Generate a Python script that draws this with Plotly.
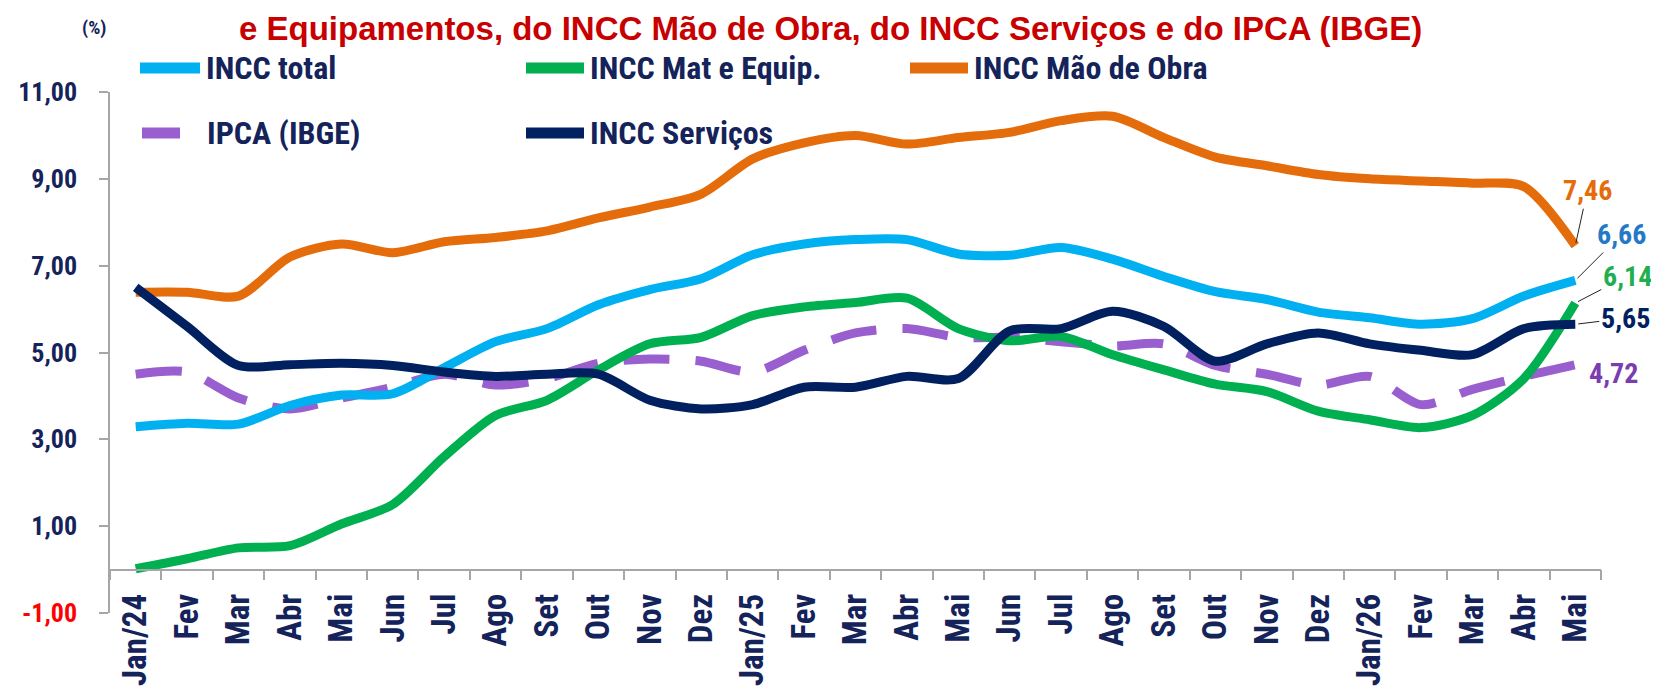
import plotly.graph_objects as go

meses = ["Jan/24", "Fev", "Mar", "Abr", "Mai", "Jun", "Jul", "Ago", "Set", "Out", "Nov", "Dez",
         "Jan/25", "Fev", "Mar", "Abr", "Mai", "Jun", "Jul", "Ago", "Set", "Out", "Nov", "Dez",
         "Jan/26", "Fev", "Mar", "Abr", "Mai"]

incc_total = [3.29, 3.37, 3.35, 3.78, 4.02, 4.05, 4.65, 5.25, 5.55, 6.10, 6.45, 6.70,
              7.25, 7.50, 7.60, 7.60, 7.27, 7.24, 7.42, 7.15, 6.75, 6.40, 6.22, 5.93,
              5.80, 5.65, 5.78, 6.30, 6.66]
incc_mat = [0.02, 0.25, 0.50, 0.55, 1.05, 1.50, 2.60, 3.55, 3.90, 4.60, 5.20, 5.35,
            5.85, 6.05, 6.15, 6.25, 5.55, 5.27, 5.37, 4.95, 4.60, 4.27, 4.10, 3.65,
            3.45, 3.27, 3.55, 4.40, 6.14]
incc_mao = [6.39, 6.39, 6.30, 7.20, 7.50, 7.30, 7.55, 7.65, 7.80, 8.10, 8.35, 8.65,
            9.46, 9.83, 10.00, 9.80, 9.95, 10.07, 10.34, 10.44, 9.95, 9.50, 9.30, 9.10,
            9.00, 8.95, 8.90, 8.82, 7.46]
incc_serv = [6.50, 5.60, 4.70, 4.72, 4.75, 4.70, 4.55, 4.45, 4.50, 4.50, 3.90, 3.70,
             3.80, 4.20, 4.20, 4.45, 4.40, 5.50, 5.55, 5.95, 5.60, 4.80, 5.20, 5.45,
             5.20, 5.05, 4.95, 5.55, 5.65]
ipca = [4.50, 4.55, 3.95, 3.70, 3.95, 4.20, 4.50, 4.25, 4.40, 4.75, 4.85, 4.80,
        4.55, 5.05, 5.45, 5.55, 5.35, 5.35, 5.25, 5.15, 5.20, 4.70, 4.50, 4.25,
        4.45, 3.80, 4.15, 4.45, 4.72]

y_ticks = [-1, 1, 3, 5, 7, 9, 11]
y_tick_text = ["-1,00", "1,00", "3,00", "5,00", "7,00", "9,00", "11,00"]

titulo = "e Equipamentos, do INCC Mão de Obra, do INCC Serviços e do IPCA (IBGE)"

NARROW = "Liberation Sans Narrow, Arial Narrow, Roboto Condensed, Liberation Sans, Arial, sans-serif"
NAVY_TXT = "#14235A"

C_TOTAL = "#00B0F0"
C_MAT = "#00B050"
C_MAO = "#E46C0A"
C_SERV = "#002060"
C_IPCA = "#9A5FCF"

# the page body has an 8px margin: figure coords = screen coords - 8
OFF = 8
W, H = 1659 - OFF, 692 - OFF
ML, MR, MT, MB = 110 - OFF, 58, 92 - OFF, 79
PW, PH = W - ML - MR, H - MT - MB


def px(xs):
    return (xs - OFF - ML) / PW


def py(ys):
    return (H - MB - (ys - OFF)) / PH


x = list(range(len(meses)))
fig = go.Figure()

series = [
    ("IPCA (IBGE)", ipca, C_IPCA, "46px,26px"),
    ("INCC total", incc_total, C_TOTAL, "solid"),
    ("INCC Mat e Equip.", incc_mat, C_MAT, "solid"),
    ("INCC Mão de Obra", incc_mao, C_MAO, "solid"),
    ("INCC Serviços", incc_serv, C_SERV, "solid"),
]
for name, vals, col, dash in series:
    fig.add_trace(go.Scatter(
        x=x, y=vals, name=name, mode="lines",
        line=dict(color=col, width=9, dash=dash, shape="spline", smoothing=0.8),
        showlegend=False, hoverinfo="skip"))

# dummy trace for the boundary-tick axis
fig.add_trace(go.Scatter(x=[0], y=[None], xaxis="x2", showlegend=False, hoverinfo="skip"))

axis_pos = (0 - y_ticks[0]) / (y_ticks[-1] - y_ticks[0])

fig.update_layout(
    width=W, height=H, autosize=False,
    margin=dict(l=ML, r=MR, t=MT, b=MB, autoexpand=False),
    paper_bgcolor="white", plot_bgcolor="white",
    xaxis=dict(
        range=[-0.5, len(meses) - 0.5], anchor="free", position=axis_pos,
        tickmode="array", tickvals=x, ticktext=meses, tickangle=-90,
        ticks="outside", ticklen=10, tickcolor="rgba(0,0,0,0)",
        ticklabelstandoff=0, automargin=False,
        showline=False, showgrid=False, zeroline=False,
        tickfont=dict(family=NARROW, size=33, color=NAVY_TXT, weight="bold"),
    ),
    xaxis2=dict(
        range=[-0.5, len(meses) - 0.5], overlaying="x", anchor="free", position=axis_pos,
        tickmode="array", tickvals=[i - 0.5 for i in range(len(meses) + 1)],
        ticks="outside", ticklen=10, tickcolor="#A6A6A6", tickwidth=1.5,
        showticklabels=False, showline=True, linecolor="#A6A6A6", linewidth=1.5,
        showgrid=False, zeroline=False, automargin=False,
    ),
    yaxis=dict(
        range=[y_ticks[0], y_ticks[-1]], tickmode="array", tickvals=y_ticks,
        ticktext=[('<span style="color:#FF0000">%s</span>' % t) if v < 0 else t
                  for v, t in zip(y_ticks, y_tick_text)],
        ticks="outside", ticklen=9, tickcolor="#A6A6A6", tickwidth=1.5,
        ticklabelstandoff=17, automargin=False,
        showline=True, linecolor="#A6A6A6", linewidth=1.5,
        showgrid=False, zeroline=False,
        tickfont=dict(family=NARROW, size=26, color=NAVY_TXT, weight="bold"),
    ),
)

# title (top line of the original header is outside the picture)
fig.add_annotation(text=titulo, xref="paper", yref="paper", x=px(830), y=py(OFF),
                   xanchor="center", yanchor="top", showarrow=False,
                   font=dict(family="Liberation Sans, Arial, sans-serif", size=33,
                             color="#C80000", weight="bold"))
# unit
fig.add_annotation(text="(%)", xref="paper", yref="paper", x=px(94), y=py(28),
                   xanchor="center", yanchor="middle", showarrow=False,
                   font=dict(family=NARROW, size=19, color=NAVY_TXT, weight="bold"))

# legend (custom, two rows)
legend_items = [
    ("INCC total", C_TOTAL, 140, 200, 204, 68),
    ("INCC Mat e Equip.", C_MAT, 526, 584, 588, 68),
    ("INCC Mão de Obra", C_MAO, 910, 968, 972, 68),
    ("IPCA (IBGE)", C_IPCA, 142, 180, 205, 133),
    ("INCC Serviços", C_SERV, 526, 584, 588, 133),
]
for name, col, x0, x1, tx, ty in legend_items:
    fig.add_shape(type="line", xref="paper", yref="paper",
                  x0=px(x0), x1=px(x1), y0=py(ty), y1=py(ty),
                  line=dict(color=col, width=11))
    fig.add_annotation(text=name, xref="paper", yref="paper", x=px(tx), y=py(ty),
                       xanchor="left", yanchor="middle", showarrow=False,
                       font=dict(family=NARROW, size=32, color=NAVY_TXT, weight="bold"))

# end-of-series labels
last = len(meses) - 1
end_labels = [
    (incc_mao[last], C_MAO, 12, -55, True),
    (incc_total[last], "#2478C8", 46, -46, True),
    (incc_mat[last], "#1FAF50", 52, -27, True),
    (incc_serv[last], C_SERV, 50, -6, True),
    (ipca[last], "#7A3DB0", 38, 9, False),
]
for val, col, dx, dy, arrow in end_labels:
    txt = ("%.2f" % val).replace(".", ",")
    if arrow:
        fig.add_annotation(x=last, y=val, xref="x", yref="y", text=txt,
                           showarrow=True, arrowhead=0, arrowwidth=1, arrowcolor="#222222",
                           ax=dx, ay=dy, standoff=3,
                           font=dict(family=NARROW, size=28, color=col, weight="bold"))
    else:
        fig.add_annotation(x=last, y=val, xref="x", yref="y", text=txt, showarrow=False,
                           xshift=dx, yshift=-dy,
                           font=dict(family=NARROW, size=28, color=col, weight="bold"))

fig.write_html("out.html")
